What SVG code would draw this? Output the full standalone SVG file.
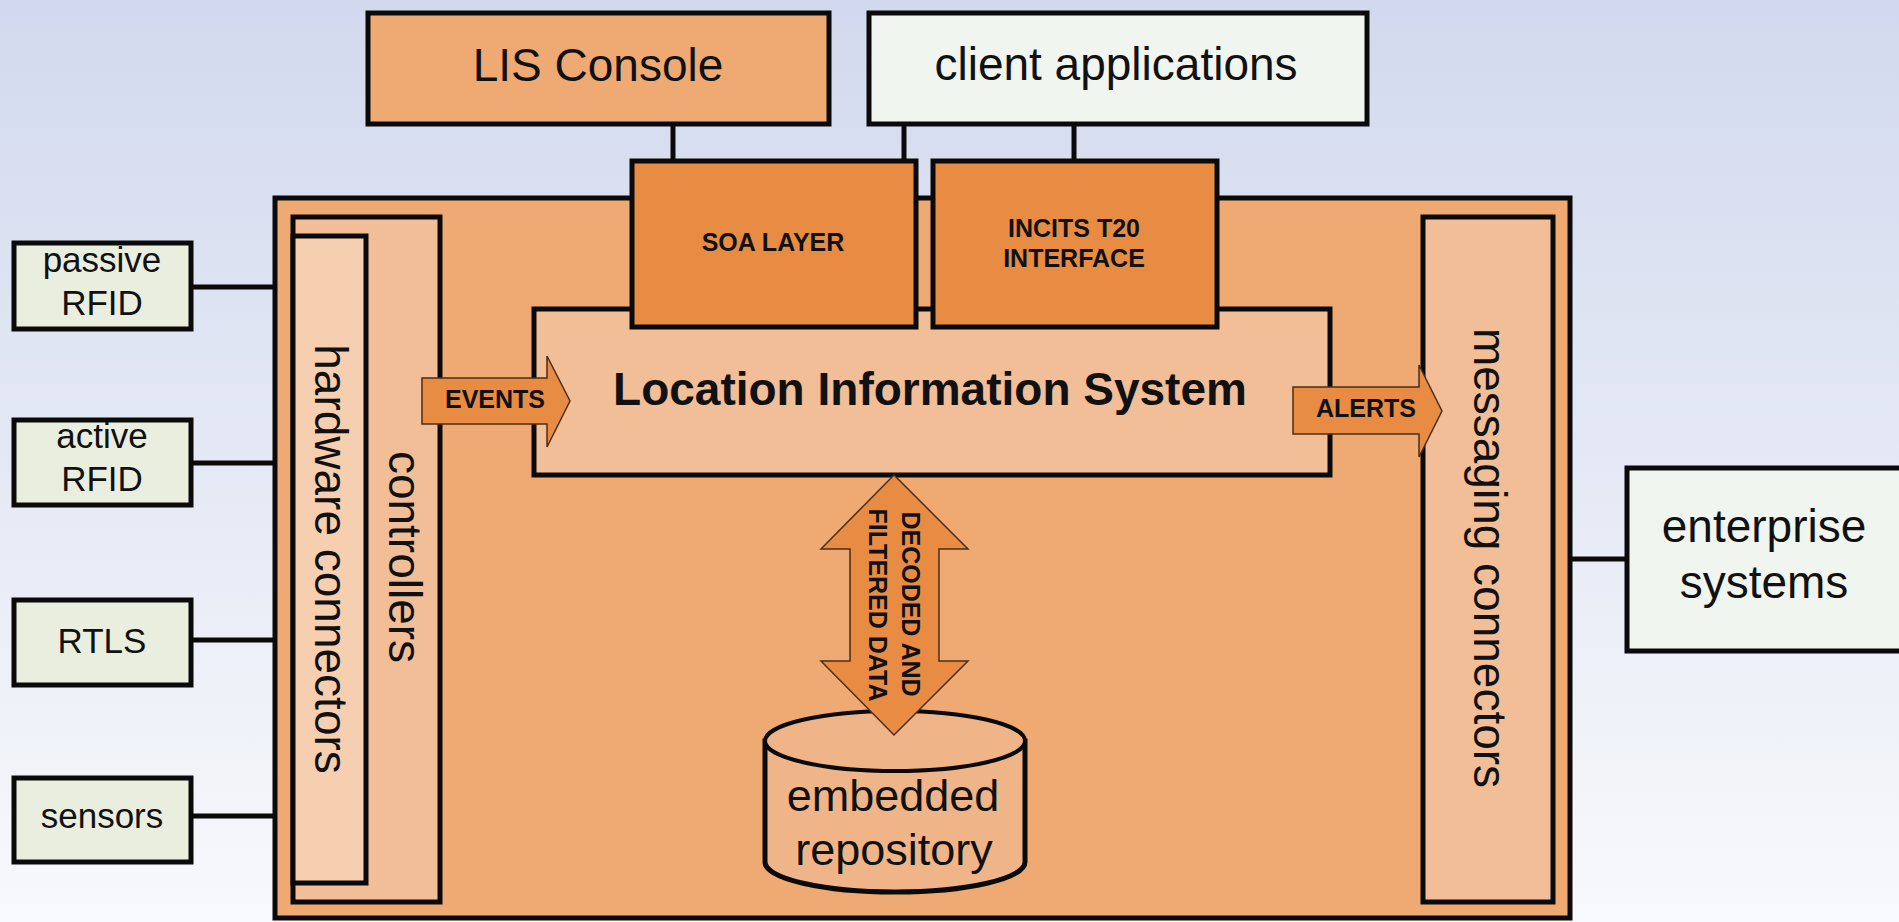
<svg xmlns="http://www.w3.org/2000/svg" width="1899" height="922" viewBox="0 0 1899 922">
<defs>
<linearGradient id="bg" x1="0" y1="0" x2="0" y2="1">
<stop offset="0" stop-color="#d2d9ee"/>
<stop offset="1" stop-color="#f8f9fc"/>
</linearGradient>
<style>
.box{stroke:#0a0a0a;stroke-width:5}
.lin{stroke:#0a0a0a;stroke-width:5;fill:none}
.arr{fill:#e88c44;stroke:#4a2e18;stroke-width:1.5}
.t{font-family:"Liberation Sans",Arial,sans-serif;fill:#111;text-anchor:middle}
.b{font-family:"Liberation Sans",Arial,sans-serif;font-weight:bold;fill:#111;text-anchor:middle}
.orange{fill:#eeaa72}
.light{fill:#f2be97}
.lighter{fill:#f6ceb0}
.dark{fill:#e88c44}
.green{fill:#e9eedf}
.white{fill:#f1f5f0}
</style>
</defs>
<rect x="0" y="0" width="1899" height="922" fill="url(#bg)"/>

<g id="connectors">
<line class="lin" x1="673" y1="124" x2="673" y2="162"/>
<line class="lin" x1="904" y1="124" x2="904" y2="162"/>
<line class="lin" x1="1074" y1="124" x2="1074" y2="162"/>
<line class="lin" x1="190" y1="287" x2="294" y2="287"/>
<line class="lin" x1="190" y1="463" x2="294" y2="463"/>
<line class="lin" x1="190" y1="640" x2="294" y2="640"/>
<line class="lin" x1="190" y1="816" x2="294" y2="816"/>
<line class="lin" x1="1552" y1="559" x2="1628" y2="559"/>
</g>

<g id="lis-console">
<rect class="box orange" x="368" y="13" width="461" height="111"/>
<text class="t" x="598" y="81" font-size="46">LIS Console</text>
</g>

<g id="client-applications">
<rect class="box white" x="869" y="13" width="498" height="111"/>
<text class="t" x="1116" y="80" font-size="46">client applications</text>
</g>

<g id="lis-platform">
<rect class="box orange" x="275" y="198" width="1295" height="720"/>
</g>

<g id="controllers">
<rect class="box light" x="293" y="217" width="147" height="685"/>
<text class="t" font-size="46" transform="translate(389,557) rotate(90)">controllers</text>
</g>

<g id="hardware-connectors">
<rect class="box lighter" x="293" y="236" width="73" height="647"/>
<text class="t" font-size="46" transform="translate(315,559) rotate(90)">hardware connectors</text>
</g>

<g id="messaging-connectors">
<rect class="box light" x="1423" y="217" width="130" height="685"/>
<text class="t" font-size="46" transform="translate(1474,558) rotate(90)">messaging connectors</text>
</g>

<g id="location-information-system">
<rect class="box light" x="534" y="309" width="796" height="166"/>
<text class="b" x="930" y="405" font-size="46">Location Information System</text>
</g>

<g id="soa-layer">
<rect class="box dark" x="632" y="161" width="284" height="166"/>
<text class="b" x="773" y="251" font-size="25">SOA LAYER</text>
</g>

<g id="incits-t20-interface">
<rect class="box dark" x="933" y="161" width="284" height="166"/>
<text class="b" x="1074" y="237" font-size="25">INCITS T20</text>
<text class="b" x="1074" y="267" font-size="25">INTERFACE</text>
</g>

<g id="embedded-repository">
<path class="box" fill="#efb588" stroke-width="4" d="M765,741 L765,862 A130,30 0 0 0 1025,862 L1025,741 Z"/>
<ellipse fill="#efb588" stroke="#0a0a0a" stroke-width="4" cx="895" cy="741" rx="130" ry="30"/>
<text class="t" x="893" y="811" font-size="45">embedded</text>
<text class="t" x="894" y="865" font-size="45">repository</text>
</g>

<g id="events-arrow">
<polygon class="arr" points="422,378 547,378 547,356 570,401 547,447 547,424 422,424"/>
<text class="b" x="495" y="408" font-size="25">EVENTS</text>
</g>

<g id="alerts-arrow">
<polygon class="arr" points="1293,387 1419,387 1419,365 1442,411 1419,457 1419,434 1293,434"/>
<text class="b" x="1366" y="417" font-size="25">ALERTS</text>
</g>

<g id="data-arrow">
<polygon class="arr" points="894,475 968,549 939,549 939,661 968,661 894,735 821,661 850,661 850,549 821,549"/>
<text class="b" font-size="25" transform="translate(902,604) rotate(90)">DECODED AND</text>
<text class="b" font-size="25" transform="translate(869,605) rotate(90)">FILTERED DATA</text>
</g>

<g id="passive-rfid">
<rect class="box green" x="14" y="243" width="177" height="86"/>
<text class="t" x="102" y="272" font-size="35">passive</text>
<text class="t" x="102" y="315" font-size="35">RFID</text>
</g>

<g id="active-rfid">
<rect class="box green" x="14" y="420" width="177" height="85"/>
<text class="t" x="102" y="448" font-size="35">active</text>
<text class="t" x="102" y="491" font-size="35">RFID</text>
</g>

<g id="rtls">
<rect class="box green" x="14" y="600" width="177" height="85"/>
<text class="t" x="102" y="653" font-size="35">RTLS</text>
</g>

<g id="sensors">
<rect class="box green" x="14" y="778" width="177" height="84"/>
<text class="t" x="102" y="828" font-size="35">sensors</text>
</g>

<g id="enterprise-systems">
<rect class="box white" x="1627" y="468" width="290" height="183"/>
<text class="t" x="1764" y="542" font-size="46">enterprise</text>
<text class="t" x="1764" y="598" font-size="46">systems</text>
</g>
</svg>
